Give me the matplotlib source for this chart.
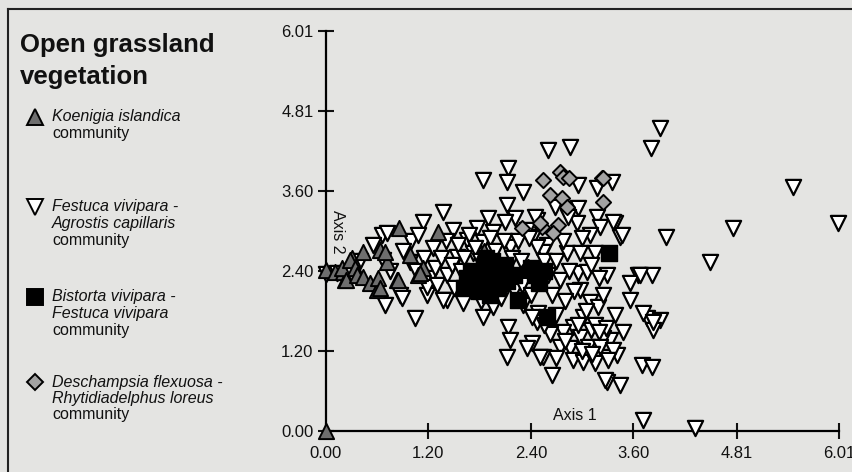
import matplotlib
matplotlib.use("Agg")
import matplotlib.pyplot as plt
from matplotlib.lines import Line2D

plt.rcParams["font.family"] = ["Liberation Sans", "DejaVu Sans"]

# =========================
# Data (axis 1, axis 2 scores)
# =========================
koenigia_x = [0.00, 0.00, 0.11, 0.20, 0.22, 0.30, 0.19, 0.28, 0.24, 0.34, 0.36, 0.43, 0.43,
              0.52, 0.60, 0.61, 0.63, 0.63, 0.71, 0.83, 0.86, 0.98, 1.08, 1.14, 1.31, 0.69,
              1.10, 0.84, 1.85]
koenigia_y = [0.00, 2.42, 2.39, 2.39, 2.27, 2.60, 2.45, 2.57, 2.27, 2.45, 2.34, 2.69, 2.31,
              2.22, 2.12, 2.30, 2.72, 2.15, 2.54, 2.27, 3.05, 2.64, 2.34, 2.45, 2.99, 2.69,
              2.37, 2.27, 2.70]

festuca_x = [3.91, 3.81, 5.47, 6.00, 4.77, 3.98, 4.50, 3.71, 4.32,
             3.35, 3.38, 3.45, 3.29, 3.65, 3.82, 3.56, 3.56, 3.38, 3.76, 3.91, 3.83, 3.48, 3.33,
             3.41, 3.70, 3.82, 3.29, 3.44, 3.29,
             2.60, 2.86, 2.95, 3.17, 2.68, 2.95, 2.94, 2.83, 3.17, 3.21, 3.36, 3.47, 3.09, 2.47,
             2.42, 2.59, 2.82, 2.97, 3.15,
             2.54, 2.95, 3.06, 3.68, 2.74, 2.97, 3.09, 3.19, 3.01, 2.89, 2.78, 2.97, 3.11, 3.24,
             2.74, 2.86, 3.07, 3.21, 3.36, 2.54, 2.70, 2.89, 3.01, 3.15, 3.30, 2.65, 3.27, 2.41,
             2.48, 2.47, 3.71, 3.83,
             1.84, 2.13, 2.15, 2.12, 2.35, 2.51, 1.42, 1.60, 1.96, 2.31, 2.41,
             1.84, 2.13, 2.12, 2.31, 2.12, 1.37, 1.49, 1.90, 2.21, 2.45, 2.10, 1.77, 1.96, 2.35,
             1.65, 1.84, 2.15, 2.47, 1.72, 1.53,
             0.66, 0.69, 1.04, 0.87, 1.18, 1.14, 0.98, 0.00, 1.22, 0.71, 0.67, 0.13, 0.89, 1.18,
             1.37,
             1.00, 1.05, 1.15, 1.25, 1.28, 1.30, 1.35, 1.40, 1.42, 1.48, 1.50, 1.55, 1.58, 1.62,
             1.68, 1.70, 1.75, 1.80, 1.82, 1.92, 1.98, 2.05, 2.08, 2.18, 2.20, 2.25, 2.28, 2.30,
             2.38, 2.40, 2.55, 2.60, 2.65, 2.70, 2.78, 2.85, 2.90, 2.80, 2.70, 3.00, 3.10, 3.20,
             3.25, 3.05, 2.95, 3.15, 3.28, 2.62, 2.55, 3.00, 3.12, 2.80, 3.20, 0.40, 0.55, 0.75,
             0.90, 1.08]
festuca_y = [4.56, 4.25, 3.66, 3.12, 3.05, 2.91, 2.54, 0.17, 0.05,
             3.74, 3.12, 2.91, 2.34, 2.34, 2.34, 2.22, 1.97, 1.74, 1.70, 1.67, 1.52, 1.49, 1.37,
             1.14, 0.99, 0.96, 0.74, 0.69, 1.11,
             4.22, 4.26, 3.69, 3.65, 3.36, 3.35, 3.12, 3.21, 3.21, 3.06, 3.14, 2.94, 2.94, 3.17,
             2.91, 2.79, 2.67, 2.67, 2.67,
             2.69, 2.37, 2.39, 2.34, 2.27, 2.12, 1.94, 1.86, 1.71, 1.56, 1.49, 1.41, 1.52, 1.40,
             1.26, 1.25, 1.26, 1.26, 1.22, 1.11, 1.10, 1.07, 1.04, 1.02, 1.07, 0.84, 0.77, 1.32,
             1.77, 1.64, 1.77, 1.64,
             1.71, 1.56, 1.37, 1.11, 1.25, 1.11, 1.97, 1.92, 1.86, 1.89, 1.71,
             3.77, 3.95, 3.74, 3.59, 3.39, 3.29, 3.02, 3.20, 3.20, 3.21, 3.14, 3.05, 2.99, 3.02,
             2.87, 2.84, 2.76, 2.76, 2.67, 2.61,
             2.94, 1.89, 1.70, 2.04, 2.04, 3.14, 2.54, 2.36, 2.30, 2.97, 2.57, 2.37, 2.00, 2.16,
             1.97,
             2.85, 2.40, 2.60, 2.75, 2.45, 2.20, 2.60, 2.85, 2.35, 2.50, 2.15, 2.80, 2.40, 2.60,
             2.95, 2.10, 2.75, 2.55, 1.95, 2.90, 2.70, 2.00, 2.85, 2.60, 2.10, 2.85, 2.55, 2.20,
             2.90, 2.05, 2.55, 2.35, 2.05, 2.55, 2.85, 2.40, 2.10, 1.95, 1.75, 2.90, 2.50, 2.30,
             2.05, 1.80, 1.60, 1.60, 1.55, 1.45, 1.60, 1.20, 1.15, 1.35, 1.48, 2.55, 2.80, 2.40,
             2.70, 2.95]

bistorta_x = [1.65, 1.72, 1.78, 1.85, 1.90, 1.95, 2.00, 2.05, 2.10, 1.80, 1.92, 2.02, 2.12,
              1.70, 1.88, 2.20, 2.25, 2.45, 2.55, 2.50, 2.59, 3.31, 2.40, 1.62]
bistorta_y = [2.30, 2.20, 2.35, 2.45, 2.25, 2.55, 2.40, 2.30, 2.50, 2.10, 2.05, 2.15, 2.25,
              2.40, 2.60, 2.35, 1.97, 2.35, 2.40, 2.22, 1.71, 2.67, 2.45, 2.15]

deschampsia_x = [2.54, 2.74, 2.78, 2.85, 2.62, 2.76, 2.82, 3.23, 3.24, 2.53, 2.72, 2.30, 2.51,
                 2.66, 2.37, 3.24]
deschampsia_y = [3.77, 3.89, 3.81, 3.80, 3.54, 3.50, 3.36, 3.80, 3.44, 3.06, 3.09, 3.05, 3.12,
                 2.97, 2.46, 3.80]

ticks = [0.00, 1.20, 2.40, 3.60, 4.81, 6.01]
tick_labels = ["0.00", "1.20", "2.40", "3.60", "4.81", "6.01"]

bg = "#e4e4e2"
ink = "#111111"
fig = plt.figure(figsize=(8.52, 4.72), dpi=100, facecolor=bg)
ax = fig.add_axes([326 / 852, 1 - 431 / 472, 513 / 852, 400 / 472], facecolor=bg)

ax.scatter(festuca_x, festuca_y, marker="v", s=120, facecolor="white",
           edgecolor="black", linewidth=1.6, clip_on=False, zorder=3)
ax.scatter(koenigia_x, koenigia_y, marker="^", s=120, facecolor="#6e6e6e",
           edgecolor="black", linewidth=1.4, clip_on=False, zorder=4)
ax.scatter(deschampsia_x, deschampsia_y, marker="D", s=60, facecolor="#a3a3a3",
           edgecolor="black", linewidth=1.4, clip_on=False, zorder=4)
ax.scatter(bistorta_x, bistorta_y, marker="s", s=120, facecolor="black",
           edgecolor="black", linewidth=1.0, clip_on=False, zorder=5)

ax.set_xlim(0, 6.01)
ax.set_ylim(0, 6.01)
ax.set_xticks(ticks)
ax.set_xticklabels(tick_labels)
ax.set_yticks(ticks)
ax.set_yticklabels(tick_labels)
ax.tick_params(direction="inout", length=12, width=1.5, labelsize=12, colors=ink)
ax.tick_params(axis="x", pad=5)
ax.tick_params(axis="y", pad=3)
for side in ["top", "right"]:
    ax.spines[side].set_visible(False)
for side in ["left", "bottom"]:
    ax.spines[side].set_linewidth(1.6)

ax.text(2.92, 0.24, "Axis 1", fontsize=11.5, ha="center", va="center", color=ink)
ax.text(0.14, 3.00, "Axis 2", fontsize=11.5, ha="center", va="center", rotation=-90,
        color=ink)

# =========================
# Frame and legend panel
# =========================
fig.add_artist(Line2D([8 / 852, 1], [1 - 9 / 472, 1 - 9 / 472], color="#222222", lw=1.5))
fig.add_artist(Line2D([8 / 852, 8 / 852], [0, 1 - 9 / 472], color="#222222", lw=1.5))

fig.text(20 / 852, 1 - 45 / 472, "Open grassland", fontsize=18.5, fontweight="bold",
         va="center", color=ink)
fig.text(20 / 852, 1 - 77 / 472, "vegetation", fontsize=18.5, fontweight="bold",
         va="center", color=ink)

legend_items = [
    ("^", "#6e6e6e", 11, 117, ["Koenigia islandica"], "community"),
    ("v", "white", 11, 207, ["Festuca vivipara -", "Agrostis capillaris"], "community"),
    ("s", "black", 11, 297, ["Bistorta vivipara -", "Festuca vivipara"], "community"),
    ("D", "#a3a3a3", 8, 382, ["Deschampsia flexuosa -", "Rhytidiadelphus loreus"], "community"),
]
for marker, fc, ms, ypx, italic_lines, plain in legend_items:
    fig.add_artist(Line2D([35 / 852], [1 - ypx / 472], marker=marker, markersize=ms,
                          markerfacecolor=fc, markeredgecolor="black",
                          markeredgewidth=1.4, linestyle="none"))
    y = ypx
    for line in italic_lines:
        fig.text(52 / 852, 1 - y / 472, line, fontsize=11.5, style="italic",
                 va="center", color=ink)
        y += 16.5
    fig.text(52 / 852, 1 - y / 472, plain, fontsize=11.5, va="center", color=ink)

plt.savefig("out.png", dpi=100, facecolor=bg)
plt.close()
